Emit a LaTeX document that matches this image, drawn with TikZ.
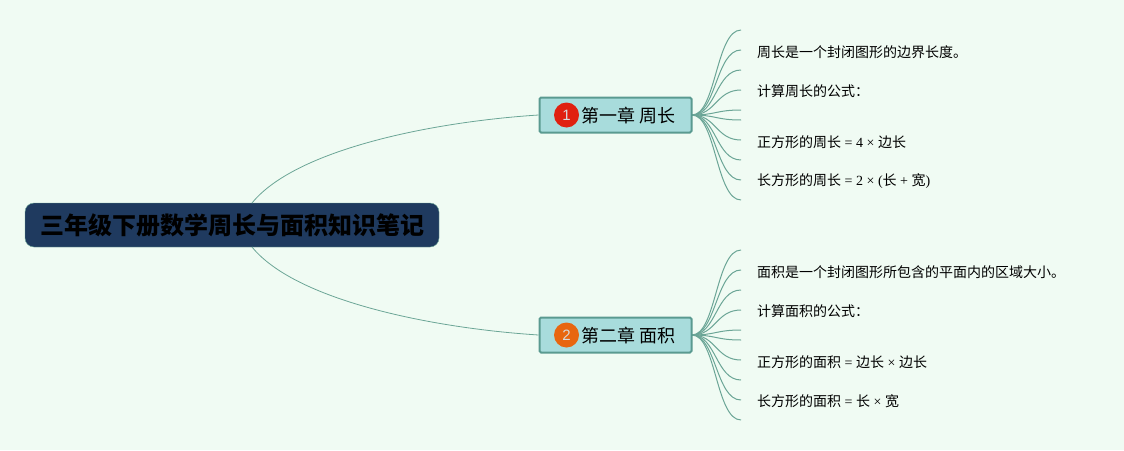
\documentclass[tikz,border=0pt]{standalone}
\usepackage{fontspec}
\setmainfont{Noto Sans CJK SC}
\newfontfamily\latf{Liberation Sans}
\newfontfamily\serf{Liberation Serif}
\newcommand{\lat}[1]{{\serf\fontsize{14}{16}\selectfont #1}}
\definecolor{bg}{HTML}{F0FBF3}
\definecolor{rootfill}{HTML}{1F3A5F}
\definecolor{chapfill}{HTML}{A8DCDC}
\definecolor{chapline}{HTML}{5A9A90}
\definecolor{linkc}{HTML}{6BA596}
\definecolor{redb}{HTML}{E0200F}
\definecolor{orangeb}{HTML}{E8660F}
\tikzset{
  x=1pt,y=-1pt,
  rootbox/.style={draw=linkc,line width=.4pt,fill=rootfill,rounded corners=9pt,minimum width=414pt,minimum height=44pt,inner sep=0pt,font=\fontsize{24}{28}\selectfont\bfseries,text=black},
  chapbox/.style={draw=chapline,line width=2pt,fill=chapfill,rounded corners=1.5pt,minimum width=152pt,minimum height=35pt,inner sep=0pt},
  chaptext/.style={anchor=west,inner sep=0pt,font=\fontsize{18}{20}\selectfont,text=black},
  badge/.style={circle,minimum size=25pt,inner sep=0pt,text=white!85!black,font=\latf\fontsize{15}{18}\selectfont},
  leaf/.style={anchor=west,inner sep=0pt,font=\fontsize{14}{16}\selectfont,text=black},
  link/.style={draw=linkc,line width=1pt},
  mainlink/.style={draw=linkc,line width=.8pt},
}
\begin{document}
\begin{tikzpicture}
\useasboundingbox (0,0) rectangle (1124,450);
\fill[bg] (0,0) rectangle (1124,450);
\coordinate (rt) at (252,203);
\coordinate (rb) at (252,247);
% chapter hubs and free ends of the twigs
\coordinate (h1) at (692,115);
\coordinate (h2) at (692,335);
\foreach \i/\y in {1/30,2/50,3/70,4/90,5/110,6/120,7/140,8/160,9/180,10/200}{
  \coordinate (a\i) at (741,\y);
  \draw[link] (h1) .. controls (716,115) and (716,\y) .. (a\i);
}
\foreach \i/\y in {1/250,2/270,3/290,4/310,5/330,6/340,7/360,8/380,9/400,10/420}{
  \coordinate (b\i) at (741,\y);
  \draw[link] (h2) .. controls (716,335) and (716,\y) .. (b\i);
}
\node[chapbox] (c1) at (615.5,115) {};
\node[chapbox] (c2) at (615.5,335) {};
\node[rootbox] (root) at (232,225) {三年级下册数学周长与面积知识笔记};
\draw[mainlink] (rt) .. controls (295,150) and (430,122) .. (c1.west);
\draw[mainlink] (rb) .. controls (295,300) and (430,328) .. (c2.west);
\node[badge,fill=redb] (n1) at (566.5,115) {1};
\node[badge,fill=orangeb] (n2) at (566.5,335) {2};
\node[chaptext] (t1) at (581.5,115.5) {第一章 周长};
\node[chaptext] (t2) at (581.5,335.5) {第二章 面积};
\node[leaf] (l1) at (757,52) {周长是一个封闭图形的边界长度。};
\node[leaf] (l2) at (757,91.5) {计算周长的公式：};
\node[leaf] (l3) at (757,142) {正方形的周长\lat{ = 4 × }边长};
\node[leaf] (l4) at (757,181.5) {长方形的周长\lat{ = 2 × (}长\lat{ + }宽\lat{)}};
\node[leaf] (m1) at (757,272) {面积是一个封闭图形所包含的平面内的区域大小。};
\node[leaf] (m2) at (757,311.5) {计算面积的公式：};
\node[leaf] (m3) at (757,362) {正方形的面积\lat{ = }边长\lat{ × }边长};
\node[leaf] (m4) at (757,401.5) {长方形的面积\lat{ = }长\lat{ × }宽};
\end{tikzpicture}
\end{document}
